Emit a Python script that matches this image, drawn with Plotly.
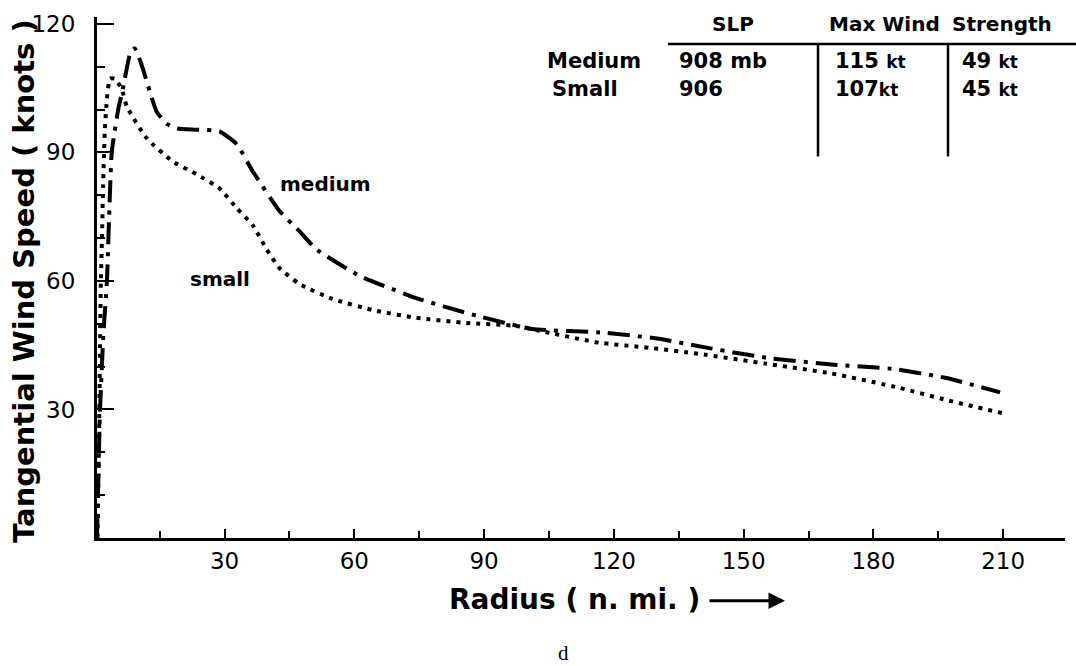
import plotly.graph_objects as go

# ---------------- data ----------------
medium_radius = [0.5, 1.2, 2.0, 2.8, 3.3, 3.9, 4.6, 5.4, 6.5, 8.1, 9.2, 10.8, 12.7, 14.3, 16.6,
                 18.9, 23.5, 28.8, 32.8, 36.5, 42.7, 47.3, 51.2, 61.2, 74.3, 88.2, 101.1, 118.2,
                 130.4, 142.6, 156.5, 170.3, 184.2, 196.6, 209.3]
medium_wind = [0, 30, 48, 60, 75, 90, 95, 100, 104.9, 112.8, 114.3, 110.5, 104.2, 99.5, 96.7,
               95.6, 95.3, 94.9, 91.9, 85.6, 76.3, 71.6, 67.4, 61.2, 56.0, 51.9, 48.8, 47.9,
               46.5, 44.2, 41.9, 40.5, 39.5, 37.4, 34.0]

small_radius = [0.6, 1.0, 1.2, 1.4, 1.7, 1.9, 2.3, 2.8, 3.5, 4.6, 6.2, 7.4, 12.0, 18.0, 23.5,
                28.8, 32.8, 36.5, 39.7, 42.7, 47.3, 54.9, 65.1, 74.3, 85.9, 97.4, 105.0, 116.5,
                128.1, 139.6, 155.1, 170.3, 185.8, 197.3, 210.0]
small_wind = [0, 25, 45, 60, 72, 82, 94.9, 102.6, 107.2, 107.2, 104.9, 100.7, 93.3, 87.9, 84.9,
              81.6, 77.0, 73.0, 67.4, 63.0, 59.3, 55.8, 53.0, 51.4, 50.2, 49.5, 47.9, 45.6,
              44.4, 43.0, 40.7, 38.4, 35.1, 32.1, 29.1]

x_tick_values = [30, 60, 90, 120, 150, 180, 210]
x_minor_values = [15, 45, 75, 105, 135, 165, 195]
y_tick_values = [30, 60, 90, 120]
y_minor_values = [10, 20, 40, 50, 70, 80, 100, 110]

table_header = ["SLP", "Max Wind", "Strength"]
table_rows = ["Medium", "Small"]
table_slp = ["908 mb", "906"]
table_max_wind = ["115 kt", "107kt"]
table_strength = ["49 kt", "45 kt"]

# ---------------- layout helpers ----------------
W, H = 1076, 666
L, R, T, B = 97, 11, 15, 128
PW, PH = W - L - R, H - T - B


def px(x):
    return (x - L) / PW


def py(y):
    return (H - B - y) / PH


FONT = "DejaVu Sans"
BLACK = "#000000"

fig = go.Figure()
fig.add_trace(go.Scatter(
    x=medium_radius, y=medium_wind, mode="lines", name="medium",
    line=dict(color=BLACK, width=4, dash="22px,8px,4px,8px", shape="spline", smoothing=0.5),
    showlegend=False, hoverinfo="skip"))
fig.add_trace(go.Scatter(
    x=small_radius, y=small_wind, mode="lines", name="small",
    line=dict(color=BLACK, width=4, dash="4px,6px", shape="spline", smoothing=0.5),
    showlegend=False, hoverinfo="skip"))

fig.update_layout(
    width=W, height=H,
    margin=dict(l=L, r=R, t=T, b=B, pad=0),
    paper_bgcolor="white", plot_bgcolor="white",
    font=dict(family=FONT, color=BLACK),
    xaxis=dict(range=[0.5, 224.3], showline=True, linewidth=3, linecolor=BLACK,
               showgrid=False, zeroline=False, ticks="inside", tickvals=x_tick_values,
               ticklen=9, tickwidth=2, tickcolor=BLACK,
               tickfont=dict(size=23, family=FONT), ticklabelstandoff=0,
               minor=dict(tickvals=x_minor_values, ticks="inside", ticklen=7,
                          tickwidth=2, tickcolor=BLACK, showgrid=False)),
    yaxis=dict(range=[0, 121.6], showline=True, linewidth=3, linecolor=BLACK,
               showgrid=False, zeroline=False, ticks="inside", tickvals=y_tick_values,
               ticklen=17, tickwidth=2, tickcolor=BLACK,
               tickfont=dict(size=23, family=FONT), ticklabelstandoff=14,
               minor=dict(tickvals=y_minor_values, ticks="inside", ticklen=8,
                          tickwidth=2, tickcolor=BLACK, showgrid=False)),
)

ann = []


def text(x, y, s, size, bold=True, anchor="center", family=FONT, angle=0):
    ann.append(dict(x=px(x), y=py(y), xref="paper", yref="paper", text=(f"<b>{s}</b>" if bold else s),
                    showarrow=False, xanchor=anchor, yanchor="middle", textangle=angle,
                    font=dict(size=size, family=family, color=BLACK)))


def small_kt(s):
    return s.replace("kt", "<span style='font-size:17px'>kt</span>")


# axis titles
text(24, 280, "Tangential Wind Speed ( knots )", 29, angle=-90)
text(447, 600, "Radius ( n. mi. )", 28, anchor="left")
ann.append(dict(x=px(785), y=py(601), ax=-77, ay=0, xref="paper", yref="paper",
                axref="pixel", ayref="pixel", text="", showarrow=True, arrowhead=2,
                arrowsize=1.1, arrowwidth=3, arrowcolor=BLACK))
text(563, 653, "d", 21, bold=False, family="Liberation Serif")

# curve labels
text(325, 183, "medium", 20)
text(220, 278, "small", 20)

# table
header_x = [733, 884, 1002]
for hx, h in zip(header_x, table_header):
    text(hx, 22, h, 20)
row_y = [59, 87]
for ry, lab, s, mw, st in zip(row_y, table_rows, table_slp, table_max_wind, table_strength):
    text(545 if lab == "Medium" else 550, ry, lab, 21, anchor="left")
    text(677, ry, s, 21, anchor="left")
    text(833, ry, small_kt(mw), 21, anchor="left")
    text(960, ry, small_kt(st), 21, anchor="left")

fig.update_layout(annotations=ann)

shapes = [
    dict(type="line", xref="paper", yref="paper", x0=px(668), x1=px(1076), y0=py(42), y1=py(42),
         line=dict(color=BLACK, width=2.5)),
    dict(type="line", xref="paper", yref="paper", x0=px(818), x1=px(818), y0=py(42), y1=py(155),
         line=dict(color=BLACK, width=2.5)),
    dict(type="line", xref="paper", yref="paper", x0=px(948), x1=px(948), y0=py(42), y1=py(155),
         line=dict(color=BLACK, width=2.5)),
]
fig.update_layout(shapes=shapes)

fig.write_html("out.html", config={"displayModeBar": False},
               post_script="document.body.style.margin='0px';")
